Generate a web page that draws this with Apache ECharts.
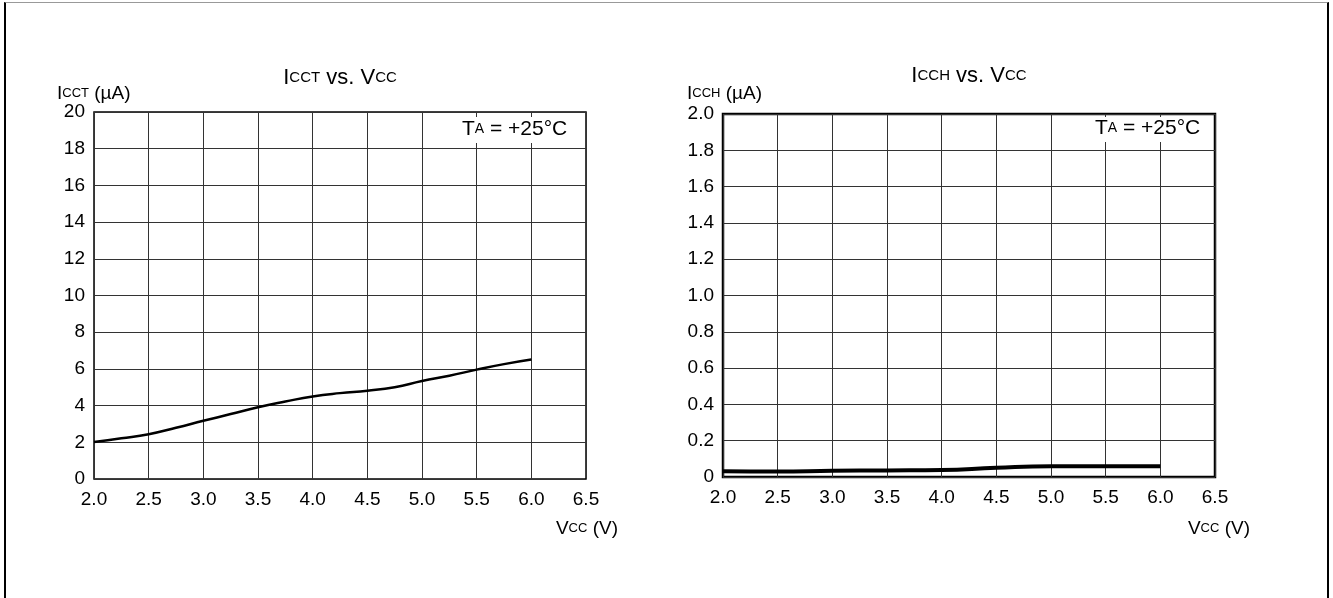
<!DOCTYPE html>
<html>
<head>
<meta charset="utf-8">
<script src="https://cdn.jsdelivr.net/npm/echarts@6/dist/echarts.min.js"></script>
<style>
  html, body { margin: 0; padding: 0; background: #fff; }
  #frame {
    position: absolute; left: 4px; top: 2px; width: 1321px; height: 640px;
    border-left: 2px solid #000; border-right: 2px solid #000; border-top: 1px solid #999;
  }
  #chart { position: absolute; left: 0; top: 0; width: 1333px; height: 598px; }
</style>
</head>
<body>
<div id="frame"></div>
<div id="chart"></div>
<script>
  // supply voltage (V)
  var vccT = [2.0, 2.25, 2.5, 2.75, 3.0, 3.25, 3.5, 3.75, 4.0, 4.25, 4.5, 4.75, 5.0, 5.25, 5.5, 5.75, 6.0];
  // ICCT (uA)
  var icct = [2.02, 2.22, 2.44, 2.79, 3.17, 3.54, 3.91, 4.22, 4.5, 4.68, 4.81, 5.0, 5.34, 5.63, 5.96, 6.26, 6.51];

  var vccH = [2.0, 2.5, 3.0, 3.5, 4.0, 4.5, 5.0, 5.5, 6.0];
  // ICCH (uA)
  var icch = [0.032, 0.030, 0.034, 0.036, 0.038, 0.051, 0.059, 0.059, 0.059];

  var font = "'Liberation Sans', Arial, sans-serif";

  // big letter + small-caps subscript, per size
  function richSet(big, small) {
    return {
      b: { fontSize: big, fontFamily: font, color: '#000' },
      s: { fontSize: small, fontFamily: font, color: '#000' }
    };
  }
  var titleRich = richSet(22, 15);
  var nameRich = richSet(19, 13);
  var tempRich = richSet(21, 14);

  function txt(text, rich, left, top, align, extra) {
    var t = {
      text: text, left: left, top: top, textAlign: align || 'left', padding: 0,
      textStyle: { rich: rich, fontWeight: 'normal' }
    };
    if (extra) Object.assign(t, extra);
    return t;
  }

  function xAxis(idx) {
    return {
      type: 'value', gridIndex: idx, min: 2.0, max: 6.5, interval: 0.5,
      axisLine: { show: false }, axisTick: { show: false },
      axisLabel: { fontSize: 19, fontFamily: font, color: '#000', margin: 11,
        formatter: function (v) { return v.toFixed(1); } },
      splitLine: { show: true, lineStyle: { color: '#333', width: 1 } }
    };
  }

  var chart = echarts.init(document.getElementById('chart'));
  chart.setOption({
    animation: false,
    title: [
      txt('{b|I}{s|CCT}{b| vs. V}{s|CC}', titleRich, 340, 67, 'center'),
      txt('{b|I}{s|CCH}{b| vs. V}{s|CC}', titleRich, 969, 65, 'center'),
      txt('{b|I}{s|CCT}{b| (µA)}', nameRich, 57, 84),
      txt('{b|I}{s|CCH}{b| (µA)}', nameRich, 687, 84),
      txt('{b|V}{s|CC}{b| (V)}', nameRich, 618, 519, 'right'),
      txt('{b|V}{s|CC}{b| (V)}', nameRich, 1250, 519, 'right'),
      txt('{b|T}{s|A}{b| = +25°C}', tempRich, 459, 117, 'left', { backgroundColor: '#fff', padding: [2, 3, 3, 3] }),
      txt('{b|T}{s|A}{b| = +25°C}', tempRich, 1092, 117, 'left', { backgroundColor: '#fff', padding: [1, 3, 3, 3] })
    ],
    grid: [
      { left: 94, top: 112, width: 492, height: 367, show: true, borderColor: '#000', borderWidth: 1.5 },
      { left: 723, top: 114, width: 492, height: 363, show: true, borderColor: '#000', borderWidth: 2.5 }
    ],
    xAxis: [xAxis(0), xAxis(1)],
    yAxis: [
      {
        type: 'value', gridIndex: 0, min: 0, max: 20, interval: 2,
        axisLine: { show: false }, axisTick: { show: false },
        axisLabel: { fontSize: 19, fontFamily: font, color: '#000', margin: 9 },
        splitLine: { show: true, lineStyle: { color: '#333', width: 1 } }
      },
      {
        type: 'value', gridIndex: 1, min: 0, max: 2, interval: 0.2,
        axisLine: { show: false }, axisTick: { show: false },
        axisLabel: { fontSize: 19, fontFamily: font, color: '#000', margin: 9,
          formatter: function (v) { return v === 0 ? '0' : v.toFixed(1); } },
        splitLine: { show: true, lineStyle: { color: '#333', width: 1 } }
      }
    ],
    series: [
      {
        type: 'line', xAxisIndex: 0, yAxisIndex: 0, smooth: true, showSymbol: false,
        lineStyle: { color: '#000', width: 2.5 },
        data: vccT.map(function (v, i) { return [v, icct[i]]; })
      },
      {
        type: 'line', xAxisIndex: 1, yAxisIndex: 1, smooth: true, showSymbol: false,
        lineStyle: { color: '#000', width: 4 },
        data: vccH.map(function (v, i) { return [v, icch[i]]; })
      }
    ]
  });
</script>
</body>
</html>
